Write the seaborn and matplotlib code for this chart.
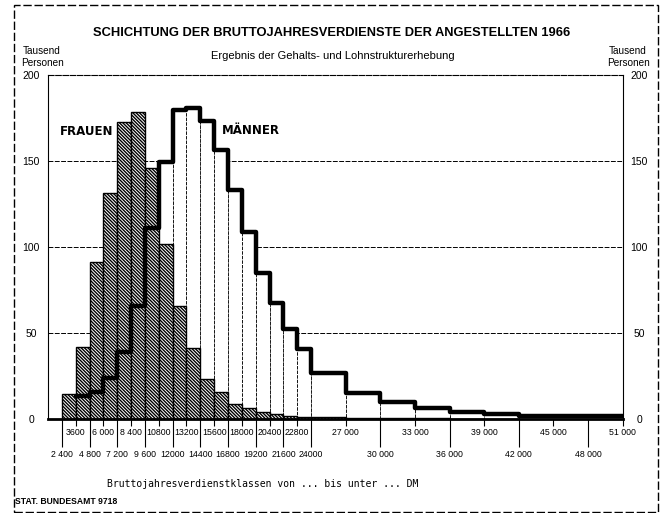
import matplotlib
matplotlib.use("Agg")
import matplotlib.pyplot as plt
from matplotlib.patches import Rectangle
import pandas as pd
import seaborn as sns

# Lower bounds of the earnings classes (DM); the last class ends at 51 000
class_lower = [2400, 3600, 4800, 6000, 7200, 8400, 9600, 10800, 12000, 13200,
               14400, 15600, 16800, 18000, 19200, 20400, 21600, 22800, 24000,
               27000, 30000, 33000, 36000, 39000, 42000]
class_top = 51000

# Thousand persons per 1 200 DM of class width
frauen = [14.5, 42, 91.5, 131.5, 172.5, 178.5, 146, 102, 65.5, 41,
          23.5, 15.5, 9, 6.5, 4, 3, 2, 1.4, 1.0,
          0.6, 0.4, 0.3, 0.2, 0.2, 0.1]
maenner = [0, 13.5, 15.5, 24, 39, 65.5, 111, 149.5, 179.5, 181,
           173.5, 156.5, 133, 109, 85, 67.5, 52.5, 40.5, 27,
           15, 10, 6.3, 4.2, 2.8, 1.5]

upper_ticks = [3600, 6000, 8400, 10800, 13200, 15600, 18000, 20400, 22800,
               27000, 33000, 39000, 45000, 51000]
upper_labels = ["3600", "6 000", "8 400", "10800", "13200", "15600", "18000",
                "20400", "22800", "27 000", "33 000", "39 000", "45 000", "51 000"]
lower_ticks = [2400, 4800, 7200, 9600, 12000, 14400, 16800, 19200, 21600,
               24000, 30000, 36000, 42000, 48000]
lower_labels = ["2 400", "4 800", "7 200", "9 600", "12000", "14400", "16800",
                "19200", "21600", "24000", "30 000", "36 000", "42 000", "48 000"]
y_ticks = [0, 50, 100, 150, 200]

edges = [float(e) for e in class_lower + [class_top]]
mids = [(a + b) / 2 for a, b in zip(edges[:-1], edges[1:])]
df = pd.DataFrame({"mitte": mids, "frauen": frauen, "maenner": maenner})
df_m = df.iloc[1:].reset_index(drop=True)   # men are shown from 3 600 DM upwards
edges_m = edges[1:]

sns.set_theme(style="white")
plt.rcParams["font.family"] = ["Liberation Sans", "DejaVu Sans"]
plt.rcParams["text.color"] = "black"
plt.rcParams["xtick.color"] = "black"
plt.rcParams["ytick.color"] = "black"
plt.rcParams["hatch.linewidth"] = 1.0

W, H = 663, 513
fig = plt.figure(figsize=(W / 100, H / 100), dpi=100)
fig.patch.set_facecolor("white")

def fx(px):
    return px / W

def fy(py):
    return 1 - py / H

ax = fig.add_axes([fx(48), fy(419), fx(622.7) - fx(48), fy(75) - fy(419)])
ax.set_facecolor("white")

# horizontal guide lines
for v in [50, 100, 150]:
    ax.axhline(v, color="black", lw=0.7, ls=(0, (5, 1.5)), zorder=0)

# men: open class bars with dashed outlines
sns.histplot(data=df_m, x="mitte", weights="maenner", bins=edges_m, stat="count",
             element="bars", color="white", edgecolor="black", linewidth=0.6,
             linestyle=(0, (4, 1.5)), alpha=1, ax=ax, zorder=1)
# women: densely hatched class bars
sns.histplot(data=df, x="mitte", weights="frauen", bins=edges, stat="count",
             element="bars", color="white", edgecolor="black", linewidth=1.0,
             hatch="\\" * 10, alpha=1, ax=ax, zorder=2)
# men: heavy outline
sns.histplot(data=df_m, x="mitte", weights="maenner", bins=edges_m, stat="count",
             element="step", fill=False, color="black", linewidth=3.2, ax=ax,
             zorder=3)

ax.set_xlim(1200, 51000)
ax.set_ylim(0, 200)
ax.set_xlabel("")
ax.set_ylabel("")

ax.set_xticks(upper_ticks)
ax.set_xticklabels(upper_labels)
ax.set_xticks(lower_ticks, minor=True)
ax.set_xticklabels(lower_labels, minor=True)
ax.tick_params(axis="x", which="major", length=5, width=0.8, pad=1.6,
               labelsize=6.3, color="black", bottom=True)
ax.tick_params(axis="x", which="minor", length=20, width=0.8, pad=2.6,
               labelsize=6.3, color="black", bottom=True)

ax.set_yticks(y_ticks)
ax.tick_params(axis="y", length=0, pad=12, labelsize=7.5, labelleft=True,
               labelright=True)
for t in ax.yaxis.get_major_ticks():
    t.label1.set_horizontalalignment("center")
    t.label2.set_horizontalalignment("center")

for side in ["left", "right"]:
    ax.spines[side].set_linewidth(0.8)
    ax.spines[side].set_color("black")
ax.spines["top"].set_linewidth(0.8)
ax.spines["top"].set_linestyle((0, (5, 1.5)))
ax.spines["bottom"].set_linewidth(2.0)
ax.spines["bottom"].set_color("black")
ax.spines["top"].set_color("black")

# series names inside the plot
ax.text(2250, 167, "FRAUEN", fontsize=8.5, fontweight="bold",
        family=["DejaVu Sans"], va="center", ha="left")
ax.text(16300, 168, "MÄNNER", fontsize=8.5, fontweight="bold",
        family=["DejaVu Sans"], va="center", ha="left")

# headings
fig.text(fx(332), fy(33), "SCHICHTUNG DER BRUTTOJAHRESVERDIENSTE DER ANGESTELLTEN 1966",
         ha="center", va="center", fontsize=9.3, fontweight="bold")
fig.text(fx(333), fy(56), "Ergebnis der Gehalts- und Lohnstrukturerhebung",
         ha="center", va="center", fontsize=8)
for xc in (42, 628):
    fig.text(fx(xc), fy(57), "Tausend\nPersonen", ha="center", va="center",
             fontsize=7.2, linespacing=1.15)

fig.text(fx(263), fy(484), "Bruttojahresverdienstklassen von ... bis unter ... DM",
         ha="center", va="center", fontsize=7, family=["DejaVu Sans Mono"])
fig.text(fx(15), fy(501), "STAT. BUNDESAMT 9718", ha="left", va="center",
         fontsize=6.2, fontweight="bold")

# dashed frame round the whole sheet
fig.patches.append(Rectangle((fx(14), fy(511.5)), fx(657.5) - fx(14), fy(5) - fy(511.5),
                             transform=fig.transFigure, fill=False,
                             edgecolor="black", lw=1.0, ls=(0, (6, 2))))

fig.savefig("out.png", dpi=100, facecolor="white")
